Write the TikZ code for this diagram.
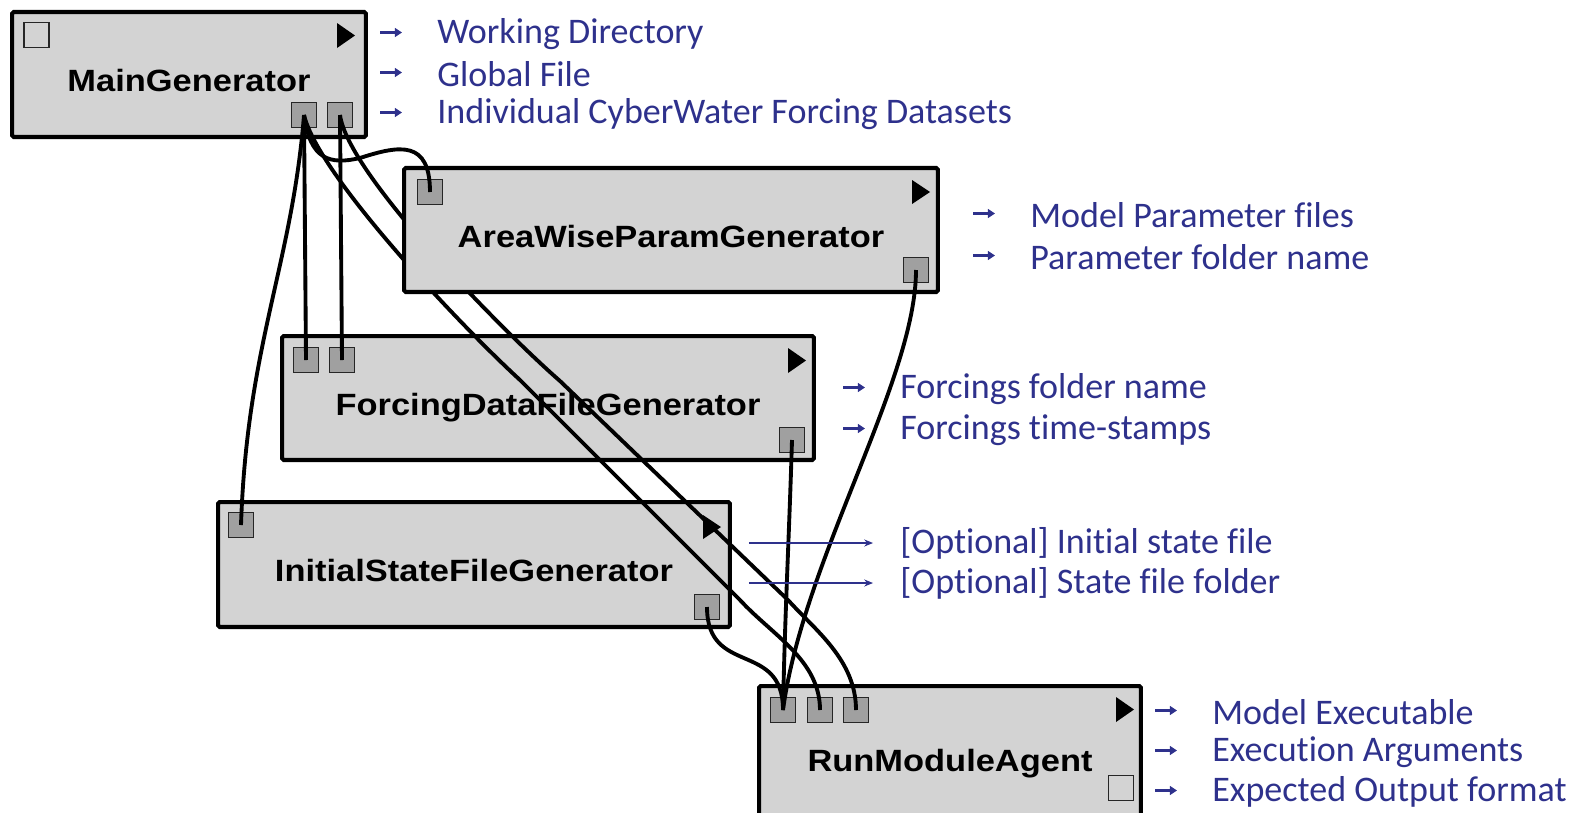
\documentclass[tikz,border=0pt]{standalone}
\usepackage{fontspec}
\setmainfont{Carlito}[Ligatures=CommonOff]
\newfontfamily\blockfont[FakeStretch=1.12]{Liberation Sans}
\usetikzlibrary{arrows.meta}
\definecolor{boxgray}{RGB}{211,211,211}
\definecolor{portgray}{RGB}{160,160,160}
\definecolor{labelblue}{RGB}{46,49,140}

\tikzset{
  block/.style={draw=black, line width=2.3pt, fill=boxgray, rounded corners=1pt, inner sep=0pt,
    font=\blockfont\bfseries\fontsize{17.5}{20}\selectfont, text height=0.68cm, text depth=0pt},
  port/.style={draw=black!85, line width=1.1pt, fill=portgray, minimum size=0.5cm, inner sep=0pt},
  freeport/.style={port, fill=boxgray},
  wire/.style={line width=2.2pt, black},
  outlabel/.style={anchor=west, text=labelblue, inner sep=0pt, font=\fontsize{20.5}{24}\selectfont},
  tick/.style={labelblue, line width=1.4pt, -{Triangle[length=4pt,width=5pt]}},
  longtick/.style={labelblue, line width=0.6pt, -{Stealth[length=5pt,width=4pt]}}
}

\begin{document}
\begin{tikzpicture}[x=0.02cm,y=-0.02cm]
  \useasboundingbox (0,0) rectangle (1575,812);

  % modules under the wires
  \node[block, minimum width=7.08cm, minimum height=2.5cm] (main) at (189,74.5) {MainGenerator};
  \node[freeport] (main-cfg) at (36.5,35) {};
  \node[port] (main-o1) at (304,115) {};
  \node[port] (main-o2) at (340,115) {};
  \fill (337,23) -- (355,35.5) -- (337,48) -- cycle;

  \node[block, minimum width=10.64cm, minimum height=2.48cm] (fdg) at (548,398) {ForcingDataFileGenerator};
  \node[port] (fdg-i1) at (306,360) {};
  \node[port] (fdg-i2) at (342,360) {};
  \node[port] (fdg-o) at (792,440) {};
  \fill (788,348) -- (806,360.5) -- (788,373) -- cycle;

  \node[block, minimum width=10.24cm, minimum height=2.5cm] (isg) at (474,564.5) {InitialStateFileGenerator};
  \node[port] (isg-i) at (241,525) {};
  \node[port] (isg-o) at (707,607) {};
  \fill (703,515) -- (721,527) -- (703,539) -- cycle;

  \node[block, minimum width=7.64cm, minimum height=2.72cm] (rma) at (950,754) {RunModuleAgent};
  \node[port] (rma-i1) at (783,710) {};
  \node[port] (rma-i2) at (820,710) {};
  \node[port] (rma-i3) at (856,710) {};
  \node[freeport] (rma-res) at (1121,788) {};
  \fill (1116,697) -- (1134,709.5) -- (1116,722) -- cycle;

  % wires
  \draw[wire] (main-o1.center) .. controls +(-12,150) and +(6,-180) .. (isg-i.center);
  \draw[wire] (main-o1.center) -- (fdg-i1.center);
  \draw[wire] (main-o2.center) -- (fdg-i2.center);
  \draw[wire] (main-o1.center) .. controls (318,175) and (460,325) .. (520,380)
    -- (740,600) .. controls (772,635) and (820,660) .. (rma-i2.center);
  \draw[wire] (main-o2.center) .. controls (348,175) and (505,333) .. (560,381)
    -- (788,600) .. controls (815,630) and (856,660) .. (rma-i3.center);

  % AreaWiseParamGenerator sits on top of the long wires
  \node[block, minimum width=10.68cm, minimum height=2.48cm] (awp) at (671,230) {AreaWiseParamGenerator};
  \node[port] (awp-i) at (430,192) {};
  \node[port] (awp-o) at (916,270) {};
  \fill (912,180) -- (930,192) -- (912,204) -- cycle;

  \draw[wire] (main-o1.center) .. controls (310,160) and (330,165) .. (360,158)
    .. controls (400,145) and (430,140) .. (awp-i.center);
  \draw[wire] (awp-o.center) .. controls +(0,110) and +(20,-150) .. (rma-i1.center);
  \draw[wire] (fdg-o.center) .. controls +(-3,100) and +(2,-100) .. (rma-i1.center);
  \draw[wire] (isg-o.center) .. controls +(0,70) and +(0,-70) .. (rma-i1.center);

  % outputs
  \node[outlabel] (wd) at (437,34) {Working Directory};
  \node[outlabel] (gf) at (437,74) {Global File};
  \node[outlabel] (cw) at (437,114) {Individual CyberWater Forcing Datasets};
  \draw[tick] ([xshift=-1.14cm,yshift=0.03cm]wd.west) -- ++(22,0);
  \draw[tick] ([xshift=-1.14cm,yshift=0.03cm]gf.west) -- ++(22,0);
  \draw[tick] ([xshift=-1.14cm,yshift=0.03cm]cw.west) -- ++(22,0);

  \node[outlabel] (mp) at (1030,215) {Model Parameter files};
  \node[outlabel] (pf) at (1030,257) {Parameter folder name};
  \draw[tick] ([xshift=-1.14cm,yshift=0.03cm]mp.west) -- ++(22,0);
  \draw[tick] ([xshift=-1.14cm,yshift=0.03cm]pf.west) -- ++(22,0);

  \node[outlabel] (ff) at (900,389) {Forcings folder name};
  \node[outlabel] (ft) at (900,430) {Forcings time-stamps};
  \draw[tick] ([xshift=-1.14cm,yshift=0.03cm]ff.west) -- ++(22,0);
  \draw[tick] ([xshift=-1.14cm,yshift=0.03cm]ft.west) -- ++(22,0);

  \node[outlabel] (sf) at (900,543) {[Optional] Initial state file};
  \node[outlabel] (sd) at (900,583) {[Optional] State file folder};
  \draw[longtick] ([xshift=0.34cm]isg.east |- sf.west) -- ([xshift=-0.54cm]sf.west);
  \draw[longtick] ([xshift=0.34cm]isg.east |- sd.west) -- ([xshift=-0.54cm]sd.west);

  \node[outlabel] (me) at (1212,712) {Model Executable};
  \node[outlabel] (ea) at (1212,752) {Execution Arguments};
  \node[outlabel] (eo) at (1212,792) {Expected Output format};
  \draw[tick] ([xshift=-1.14cm,yshift=0.03cm]me.west) -- ++(22,0);
  \draw[tick] ([xshift=-1.14cm,yshift=0.03cm]ea.west) -- ++(22,0);
  \draw[tick] ([xshift=-1.14cm,yshift=0.03cm]eo.west) -- ++(22,0);
\end{tikzpicture}
\end{document}
